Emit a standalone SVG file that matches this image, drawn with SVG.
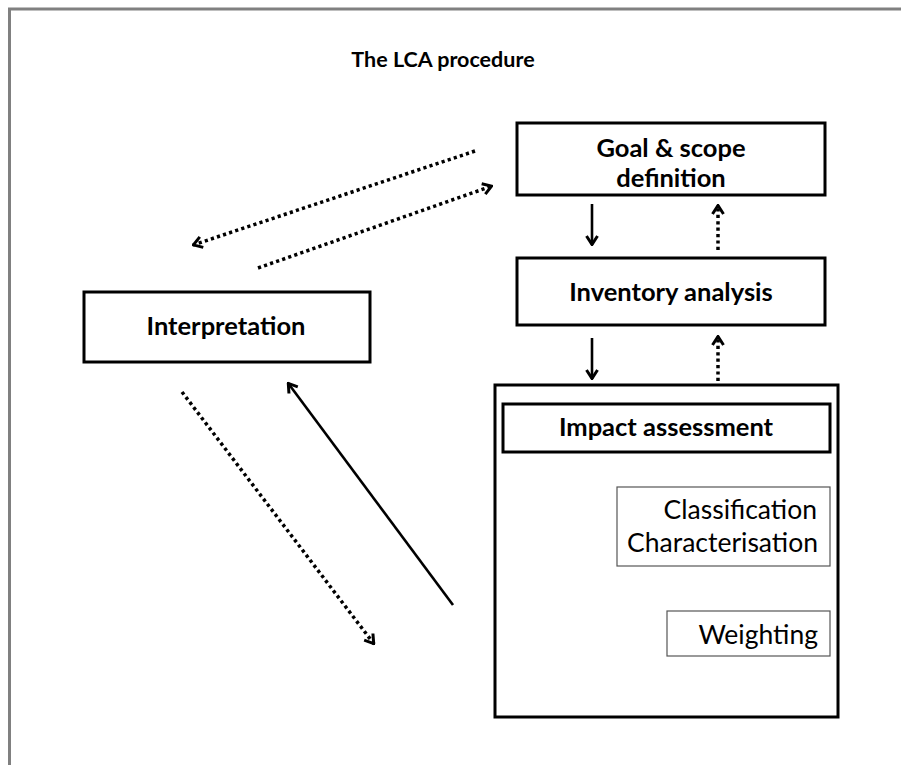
<svg xmlns="http://www.w3.org/2000/svg" width="901" height="765" viewBox="0 0 901 765">
<style>
.t{font-family:Lato,"Open Sans","Liberation Sans",sans-serif;fill:#000}
.b{font-weight:bold;font-size:25.5px}
.r{font-size:26.5px}
.box{fill:#fff;stroke:#000;stroke-width:3}
.thin{fill:#fff;stroke:#555;stroke-width:1.2}
.solid{stroke:#000;stroke-width:2.6;fill:none}
.dot{stroke:#000;stroke-width:3.5;stroke-dasharray:3.2 3.2;fill:none}
</style>
<defs>
<marker id="ah" viewBox="0 0 12 14" refX="11" refY="7" markerWidth="12" markerHeight="14" markerUnits="userSpaceOnUse" orient="auto">
<path d="M2,1.5 L10.5,7 L2,12.5" fill="none" stroke="#000" stroke-width="3" stroke-linejoin="miter"/>
</marker>
</defs>
<rect x="0" y="0" width="901" height="765" fill="#fff"/>
<path d="M9.5,765 V9 H901" fill="none" stroke="#808080" stroke-width="3"/>
<text class="t" x="443" y="67" text-anchor="middle" font-weight="bold" font-size="21.5">The LCA procedure</text>
<g id="goal">
<rect class="box" x="517" y="123" width="308" height="72"/>
<text class="t b" x="671" y="157" text-anchor="middle">Goal &amp; scope</text>
<text class="t b" x="671" y="187" text-anchor="middle">definition</text>
</g>
<g id="inventory">
<rect class="box" x="517" y="258" width="308" height="67"/>
<text class="t b" x="671" y="301" text-anchor="middle">Inventory analysis</text>
</g>
<g id="interpretation">
<rect class="box" x="84" y="292" width="286" height="70"/>
<text class="t b" x="226" y="335" text-anchor="middle">Interpretation</text>
</g>
<g id="impact">
<rect class="box" x="495" y="385" width="343" height="332"/>
<rect class="box" x="503" y="404" width="327" height="48"/>
<text class="t b" x="666" y="436" text-anchor="middle">Impact assessment</text>
</g>
<g id="classification">
<rect class="thin" x="617" y="487" width="213" height="79"/>
<text class="t r" x="817" y="519" text-anchor="end">Classification</text>
<text class="t r" x="818" y="552" text-anchor="end">Characterisation</text>
</g>
<g id="weighting">
<rect class="thin" x="667" y="611" width="163" height="45"/>
<text class="t r" x="818" y="644" text-anchor="end">Weighting</text>
</g>
<g id="connectors">
<line class="solid" x1="592" y1="204" x2="592" y2="245" marker-end="url(#ah)"/>
<line class="dot" x1="718" y1="250" x2="718" y2="205" marker-end="url(#ah)"/>
<line class="solid" x1="592" y1="338" x2="592" y2="379" marker-end="url(#ah)"/>
<line class="dot" x1="718" y1="381" x2="718" y2="336" marker-end="url(#ah)"/>
<line class="dot" x1="475" y1="151" x2="193" y2="245" marker-end="url(#ah)"/>
<line class="dot" x1="258" y1="268" x2="492" y2="186" marker-end="url(#ah)"/>
<line class="dot" x1="182" y1="392" x2="374" y2="644" marker-end="url(#ah)"/>
<line class="solid" x1="453" y1="605" x2="288" y2="383" marker-end="url(#ah)"/>
</g>
</svg>
